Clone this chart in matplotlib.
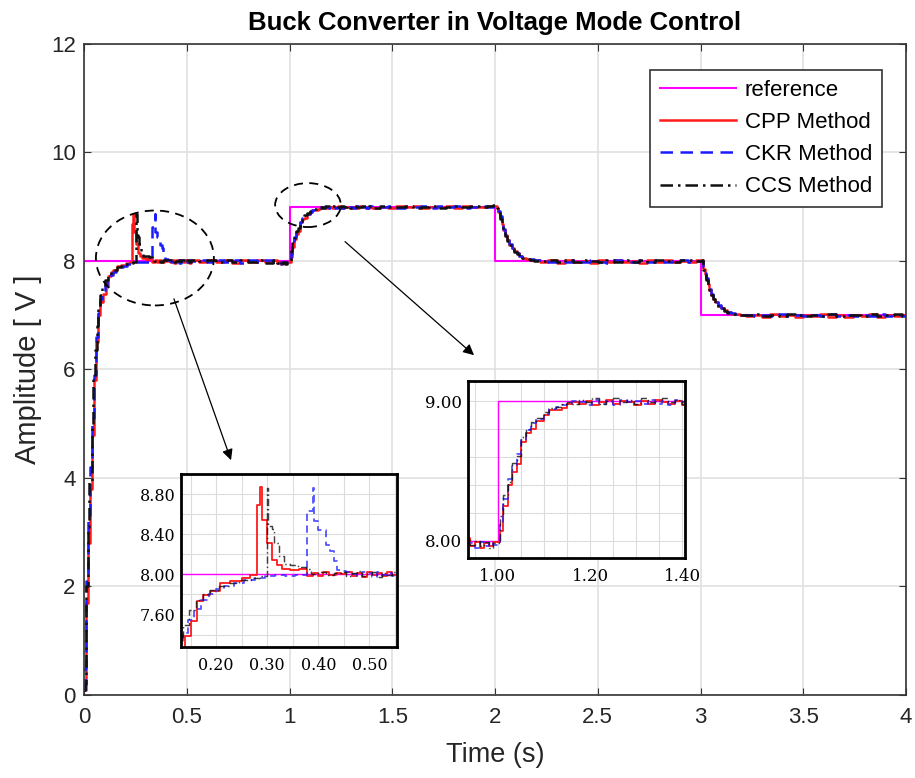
import matplotlib
matplotlib.use("Agg")
import matplotlib.pyplot as plt
from matplotlib.patches import Ellipse
from matplotlib.ticker import MultipleLocator, FormatStrFormatter

# set-point of the converter
t_ref = [0.0, 1.0, 2.0, 3.0, 4.0]
v_ref = [8.0, 9.0, 8.0, 7.0, 7.0]

# start-up transient (0 .. 0.4 s), each method sampled on its own instants
t_cpp_start = [0.0, 0.008, 0.012, 0.02, 0.03, 0.04, 0.05, 0.06, 0.07, 0.08,
               0.094, 0.105, 0.117, 0.13, 0.143, 0.163, 0.182, 0.205, 0.222, 0.235,
               0.240, 0.2445, 0.254, 0.264, 0.274, 0.284, 0.30, 0.318, 0.333, 0.345,
               0.355, 0.365, 0.375, 0.39]
v_cpp_start = [0.1, 0.3, 1.7, 2.8, 3.8, 4.8, 5.8, 6.5, 7.0, 7.25,
               7.39, 7.54, 7.73, 7.79, 7.83, 7.91, 7.93, 7.96, 7.99, 8.69,
               8.87, 8.54, 8.31, 8.14, 8.09, 8.05, 8.04, 8.05, 7.98, 8.01,
               7.98, 8.02, 7.99, 8.01]

t_ckr_start = [0.0, 0.005, 0.01, 0.02, 0.03, 0.04, 0.05, 0.06, 0.07, 0.08,
               0.09, 0.10, 0.112, 0.125, 0.14, 0.155, 0.17, 0.19, 0.21, 0.23,
               0.25, 0.27, 0.29, 0.31, 0.333, 0.3445, 0.346, 0.355, 0.369, 0.3785,
               0.385, 0.392]
v_ckr_start = [0.1, 0.5, 2.1, 3.2, 4.2, 5.1, 5.9, 6.6, 7.05, 7.3,
               7.42, 7.55, 7.66, 7.74, 7.8, 7.85, 7.88, 7.91, 7.94, 7.96,
               7.98, 7.99, 7.98, 7.99, 8.63, 8.86, 8.53, 8.44, 8.29, 8.23,
               8.13, 8.04]

t_ccs_start = [0.0, 0.005, 0.01, 0.018, 0.026, 0.037, 0.046, 0.054, 0.062, 0.07,
               0.08, 0.09, 0.102, 0.115, 0.13, 0.143, 0.16, 0.18, 0.2, 0.224,
               0.24, 0.254, 0.256, 0.2645, 0.268, 0.2775, 0.2875, 0.30, 0.315, 0.33,
               0.34, 0.355, 0.37, 0.385]
v_ccs_start = [0.1, 0.2, 2.0, 3.1, 3.94, 4.95, 5.8, 6.36, 6.8, 7.16,
               7.38, 7.5, 7.65, 7.74, 7.8, 7.84, 7.88, 7.91, 7.94, 7.96,
               7.98, 8.86, 8.48, 8.45, 8.31, 8.18, 8.10, 8.09, 8.07, 8.05,
               8.0, 8.02, 7.99, 8.01]

# rest of the run, common sample instants for the three methods
t_tail = [0.40, 0.41, 0.42, 0.43, 0.44, 0.45, 0.46, 0.47, 0.48, 0.49, 0.50, 0.51, 0.52,
          0.56, 0.60, 0.64, 0.68, 0.72, 0.76, 0.80, 0.84, 0.88, 0.92,
          0.94, 0.95, 0.96, 0.97, 0.98, 0.99,
          1.005, 1.011, 1.021, 1.030, 1.041, 1.051, 1.061, 1.072, 1.083, 1.099, 1.110, 1.125, 1.140, 1.149,
          1.160, 1.175, 1.190, 1.205, 1.220, 1.235, 1.250, 1.265, 1.280, 1.295, 1.310, 1.325, 1.340, 1.355, 1.370, 1.385, 1.400,
          1.44, 1.48, 1.52, 1.56, 1.60, 1.64, 1.68, 1.72, 1.76, 1.80, 1.84, 1.88, 1.92, 1.96, 1.99,
          2.008, 2.016, 2.024, 2.032, 2.040, 2.048, 2.057, 2.069, 2.081, 2.093, 2.105, 2.118, 2.130, 2.150, 2.170, 2.190,
          2.22, 2.26, 2.30, 2.34, 2.38, 2.42, 2.46, 2.50, 2.54, 2.58, 2.62, 2.66, 2.70, 2.74, 2.78, 2.82, 2.86, 2.90, 2.94, 2.98,
          3.006, 3.013, 3.020, 3.027, 3.034, 3.042, 3.050, 3.060, 3.070, 3.085, 3.100, 3.115, 3.130, 3.150, 3.170, 3.190,
          3.22, 3.26, 3.30, 3.34, 3.38, 3.42, 3.46, 3.50, 3.54, 3.58, 3.62, 3.66, 3.70, 3.74, 3.78, 3.82, 3.86, 3.90, 3.94, 3.98, 4.00]

v_cpp_tail = [8.00, 8.02, 7.98, 8.01, 7.97, 8.02, 7.99, 8.01, 7.98, 8.02, 7.99, 7.97, 8.01,
              7.98, 8.02, 7.99, 8.01, 7.97, 8.02, 7.98, 8.01, 7.99, 8.02,
              7.96, 7.99, 7.95, 7.98, 7.96, 7.99,
              8.07, 8.25, 8.40, 8.49, 8.55, 8.71, 8.77, 8.80, 8.86, 8.90, 8.935, 8.935, 8.95, 8.98,
              8.99, 8.98, 9.00, 8.97, 8.99, 9.01, 8.98, 9.00, 8.99, 8.97, 9.00, 8.98, 9.01, 8.99, 8.98, 9.00, 8.97,
              9.00, 8.98, 9.01, 8.99, 9.02, 8.98, 9.00, 8.99, 9.02, 8.98, 9.01, 8.99, 9.00, 9.02, 9.01,
              8.98, 8.90, 8.80, 8.68, 8.57, 8.47, 8.39, 8.30, 8.23, 8.18, 8.14, 8.09, 8.06, 8.04, 8.02, 8.01,
              7.99, 8.01, 7.97, 8.02, 7.98, 8.00, 7.97, 8.01, 7.99, 8.02, 7.98, 8.00, 7.97, 8.01, 7.99, 8.02, 7.98, 8.00, 7.99, 8.01,
              8.02, 7.86, 7.76, 7.66, 7.57, 7.47, 7.38, 7.30, 7.24, 7.17, 7.14, 7.09, 7.06, 7.03, 7.02, 7.01,
              6.99, 7.01, 6.97, 7.02, 6.98, 7.00, 6.96, 7.01, 6.98, 7.02, 6.97, 7.00, 6.96, 7.01, 6.99, 7.02, 6.97, 7.00, 6.98, 7.01, 6.99]

v_ckr_tail = [8.03, 8.02, 8.00, 7.98, 8.02, 8.01, 7.97, 8.02, 7.99, 8.01, 7.98, 8.02, 8.00,
              8.01, 7.98, 8.02, 7.99, 8.01, 7.97, 8.02, 7.99, 8.01, 7.98,
              7.98, 7.95, 7.99, 7.96, 7.99, 7.97,
              8.12, 8.30, 8.44, 8.54, 8.62, 8.72, 8.79, 8.84, 8.87, 8.91, 8.94, 8.96, 8.97, 8.98,
              9.00, 8.99, 8.97, 9.01, 8.98, 9.00, 8.97, 9.01, 8.99, 9.00, 8.98, 9.01, 8.98, 9.00, 8.97, 9.01, 8.99,
              8.99, 9.01, 8.98, 9.00, 8.99, 9.02, 8.98, 9.01, 8.99, 9.01, 8.98, 9.00, 9.01, 8.99, 9.02,
              8.99, 8.92, 8.82, 8.70, 8.59, 8.49, 8.40, 8.31, 8.24, 8.19, 8.15, 8.10, 8.07, 8.04, 8.03, 8.01,
              8.01, 7.98, 8.00, 7.99, 8.02, 7.98, 8.01, 7.99, 7.97, 8.01, 8.00, 7.98, 8.02, 7.99, 8.01, 7.98, 8.00, 8.02, 7.99, 8.00,
              8.00, 7.88, 7.78, 7.68, 7.58, 7.48, 7.40, 7.32, 7.25, 7.18, 7.14, 7.10, 7.06, 7.04, 7.02, 7.00,
              7.01, 6.98, 7.00, 6.99, 7.02, 6.98, 7.01, 6.99, 7.01, 6.98, 7.02, 6.99, 7.00, 6.98, 7.01, 6.99, 7.02, 6.98, 7.00, 6.99, 7.01]

v_ccs_tail = [8.02, 7.98, 8.01, 8.03, 7.98, 8.00, 8.02, 7.97, 8.01, 7.99, 8.02, 7.98, 8.01,
              8.00, 8.02, 7.98, 8.01, 7.99, 8.02, 7.98, 8.01, 7.97, 8.01,
              7.97, 8.00, 7.96, 7.99, 7.95, 7.98,
              8.18, 8.33, 8.42, 8.56, 8.61, 8.74, 8.80, 8.85, 8.88, 8.92, 8.95, 8.96, 8.98, 8.99,
              8.98, 9.01, 8.99, 9.02, 8.98, 9.00, 9.02, 8.99, 9.01, 8.98, 9.02, 8.99, 9.00, 9.02, 8.99, 9.01, 8.98,
              9.01, 8.99, 9.00, 9.02, 8.98, 9.00, 9.01, 8.98, 9.00, 9.02, 8.99, 9.01, 8.99, 9.01, 9.03,
              8.97, 8.88, 8.78, 8.66, 8.55, 8.46, 8.37, 8.29, 8.22, 8.17, 8.13, 8.09, 8.06, 8.03, 8.02, 8.00,
              8.00, 8.02, 7.99, 8.01, 7.98, 8.02, 8.00, 7.98, 8.01, 7.99, 8.02, 7.99, 8.01, 7.98, 8.02, 8.00, 7.99, 8.01, 8.02, 8.00,
              8.01, 7.84, 7.74, 7.64, 7.55, 7.46, 7.37, 7.29, 7.23, 7.16, 7.13, 7.08, 7.05, 7.03, 7.01, 7.00,
              7.00, 7.02, 6.99, 7.01, 6.98, 7.02, 7.00, 6.98, 7.01, 6.99, 7.02, 6.98, 7.01, 7.00, 6.98, 7.02, 6.99, 7.01, 7.02, 6.99, 7.00]

labels = ["reference", "CPP Method", "CKR Method", "CCS Method"]

# the first zoom box in the original figure is labelled about 45 ms later
# than the main time axis
ZOOM1_SHIFT = 0.045

t_cpp = t_cpp_start + t_tail
t_ckr = t_ckr_start + t_tail
t_ccs = t_ccs_start + t_tail
v_cpp = v_cpp_start + v_cpp_tail
v_ckr = v_ckr_start + v_ckr_tail
v_ccs = v_ccs_start + v_ccs_tail

MAGENTA = "#ff00ff"
RED = "#ff1a1a"
BLUE = "#1a1aff"
BLACK = "#111111"
SANS = "Liberation Sans"


def draw_curves(ax, shift=0.0, lw=1.8, thin=False):
    ref_lw = 1.0 if thin else 1.5
    ax.plot([t + shift for t in t_ref], v_ref, color=MAGENTA, lw=ref_lw,
            drawstyle="steps-post", label=labels[0])
    ax.plot([t + shift for t in t_cpp], v_cpp, color=RED, lw=lw,
            drawstyle="steps-post", label=labels[1])
    ax.plot([t + shift for t in t_ckr], v_ckr, color=BLUE, lw=lw,
            ls=(0, (4, 2.5)) if thin else (0, (5, 3)),
            alpha=0.75 if thin else 1.0,
            drawstyle="steps-post", label=labels[2])
    ax.plot([t + shift for t in t_ccs], v_ccs, color=BLACK, lw=lw * 0.8 if thin else lw,
            ls=(0, (5, 2, 1, 2)), alpha=0.8 if thin else 1.0,
            drawstyle="steps-post", label=labels[3])


fig = plt.figure(figsize=(9.15, 7.78), dpi=100)
ax = fig.add_axes([0.0918, 0.1067, 0.8984, 0.8368])

draw_curves(ax)

ax.set_xlim(0, 4)
ax.set_ylim(0, 12)
ax.set_xticks([0, 0.5, 1, 1.5, 2, 2.5, 3, 3.5, 4])
ax.set_xticklabels(["0", "0.5", "1", "1.5", "2", "2.5", "3", "3.5", "4"])
ax.set_yticks([0, 2, 4, 6, 8, 10, 12])
ax.grid(True, color="#e0e0e0", lw=1.2)
ax.set_axisbelow(True)
ax.tick_params(direction="in", length=5, labelsize=16, top=True, right=True,
               color="#333333", labelcolor="#262626")
ax.tick_params(axis="x", pad=9)
ax.tick_params(axis="y", pad=6)
for sp in ax.spines.values():
    sp.set_color("#333333")
    sp.set_linewidth(1.2)
for lab in ax.get_xticklabels() + ax.get_yticklabels():
    lab.set_family(SANS)

ax.set_xlabel("Time (s)", fontsize=19.5, family=SANS, labelpad=10, color="#262626")
ax.set_ylabel("Amplitude [ V ]", fontsize=21, family=SANS, labelpad=6, color="#262626")
ax.set_title("Buck Converter in Voltage Mode Control", fontsize=18.5,
             fontweight="bold", family=SANS, pad=10)

leg = ax.legend(loc="upper right", bbox_to_anchor=(0.971, 0.960),
                borderaxespad=0, prop={"family": SANS, "size": 16},
                handlelength=3.4, handletextpad=0.4, labelspacing=0.5,
                borderpad=0.45, fancybox=False, framealpha=1)
leg.get_frame().set_edgecolor("#333333")
leg.get_frame().set_linewidth(1.2)

# dashed ellipses around the two zoomed transients
ax.add_patch(Ellipse((0.345, 8.055), 0.574, 1.75, fill=False, ec="black",
                     lw=1.3, ls=(0, (5, 3.5)), zorder=5))
ax.add_patch(Ellipse((1.09, 9.03), 0.32, 0.81, fill=False, ec="black",
                     lw=1.3, ls=(0, (5, 3.5)), zorder=5))

arrow = dict(arrowstyle="-|>", color="black", lw=0.9, mutation_scale=16)
ax.annotate("", xy=(0.72, 4.28), xytext=(0.433, 7.35), arrowprops=arrow)
ax.annotate("", xy=(1.908, 6.23), xytext=(1.26, 8.39), arrowprops=arrow)


def style_inset(ax_in, xmaj, xmin, ymaj, ymin, size, xpad):
    ax_in.xaxis.set_major_locator(MultipleLocator(xmaj))
    ax_in.xaxis.set_minor_locator(MultipleLocator(xmin))
    ax_in.yaxis.set_major_locator(MultipleLocator(ymaj))
    ax_in.yaxis.set_minor_locator(MultipleLocator(ymin))
    ax_in.xaxis.set_major_formatter(FormatStrFormatter("%.2f"))
    ax_in.yaxis.set_major_formatter(FormatStrFormatter("%.2f"))
    ax_in.grid(True, which="both", color="#dcdcdc", lw=0.8)
    ax_in.set_axisbelow(True)
    ax_in.tick_params(which="both", length=0, labelsize=size, pad=4)
    ax_in.tick_params(axis="x", pad=xpad)
    for lab in ax_in.get_xticklabels() + ax_in.get_yticklabels():
        lab.set_family("DejaVu Serif")
    for sp in ax_in.spines.values():
        sp.set_color("black")
        sp.set_linewidth(2)


ins1 = fig.add_axes([0.1978, 0.1684, 0.2361, 0.2224])
draw_curves(ins1, shift=ZOOM1_SHIFT, lw=1.3, thin=True)
ins1.set_xlim(0.131, 0.554)
ins1.set_ylim(7.277, 9.0)
style_inset(ins1, 0.1, 0.05, 0.4, 0.2, 11.5, 7)

ins2 = fig.add_axes([0.5115, 0.2828, 0.2372, 0.2275])
draw_curves(ins2, lw=1.3, thin=True)
ins2.set_xlim(0.935, 1.406)
ins2.set_ylim(7.876, 9.144)
style_inset(ins2, 0.2, 0.05, 1.0, 0.2, 12, 7)

fig.savefig("out.png", dpi=100)
